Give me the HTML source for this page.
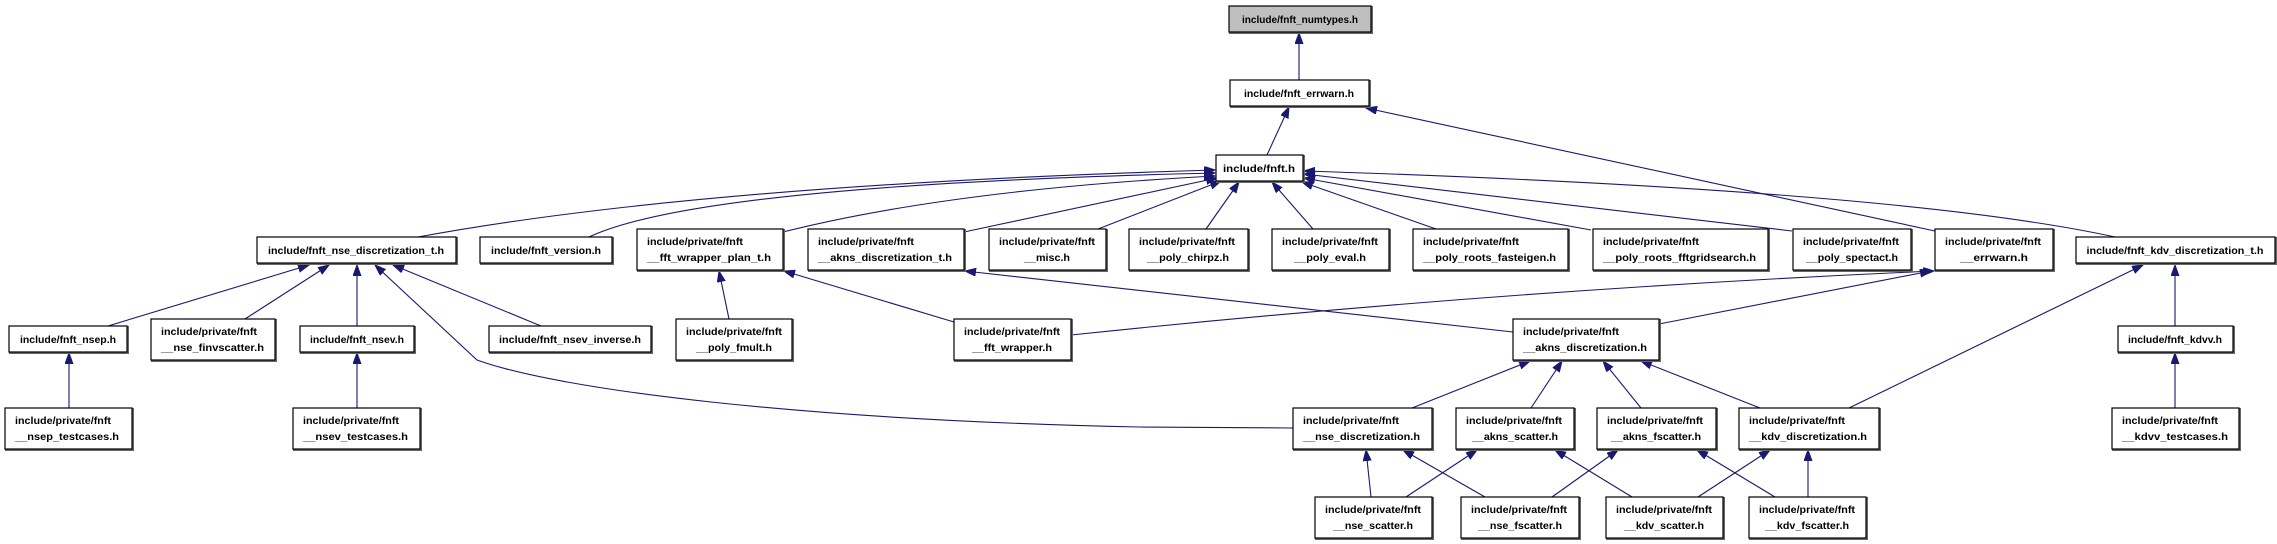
<!DOCTYPE html>
<html><head><meta charset="utf-8"><style>
html,body{margin:0;padding:0;background:#fff;}
svg{display:block}
text{font-family:"Liberation Sans",sans-serif;font-weight:bold;font-size:10px;fill:#000}
.b{fill:#fff;stroke:#000;stroke-width:1.2}
.s{fill:none;stroke:#666;stroke-width:2}
.e{fill:none;stroke:#191970;stroke-width:1.1;marker-end:url(#a)}
</style></head><body>
<svg width="2277" height="544" viewBox="0 0 2277 544" xmlns="http://www.w3.org/2000/svg">
<defs><marker id="a" markerWidth="12" markerHeight="10" refX="11" refY="4" orient="auto" markerUnits="userSpaceOnUse"><path d="M0,0 L11,4 L0,8 z" fill="#191970" stroke="#191970"/></marker></defs>

<!-- edges -->
<path class="e" d="M1299,80 L1299,33"/>
<path class="e" d="M1267,155 L1289,107"/>
<path class="e" d="M1935,231 L1366,108"/>
<path class="e" d="M418,237 Q700,185 1215,170"/>
<path class="e" d="M589,237 Q700,185 1215,173"/>
<path class="e" d="M783,232 Q950,190 1215,176"/>
<path class="e" d="M964,232 L1217,178"/>
<path class="e" d="M1098,229 L1221,181"/>
<path class="e" d="M1206,229 L1239,182"/>
<path class="e" d="M1313,229 L1272,182"/>
<path class="e" d="M1436,229 L1302,182"/>
<path class="e" d="M1591,230 L1304,178"/>
<path class="e" d="M1792,231 L1304,174"/>
<path class="e" d="M2115,237 Q1900,190 1304,171"/>
<path class="e" d="M108,326 L309,265"/>
<path class="e" d="M245,319 L329,265"/>
<path class="e" d="M357,326 L357,265"/>
<path class="e" d="M541,326 L393,265"/>
<path class="e" d="M69,408 L69,353"/>
<path class="e" d="M357,408 L357,353"/>
<path class="e" d="M1293,428 L1140,427 C800,420 560,390 477,360 L375,265"/>
<path class="e" d="M729,319 L719,271"/>
<path class="e" d="M954,322 L784,271"/>
<path class="e" d="M1513,332 L965,271"/>
<path class="e" d="M1071,335 Q1500,290 1934,271"/>
<path class="e" d="M1659,324 L1931,271"/>
<path class="e" d="M1849,408 L2143,265"/>
<path class="e" d="M2175,326 L2175,265"/>
<path class="e" d="M2175,408 L2175,353"/>
<path class="e" d="M1412,408 L1530,361"/>
<path class="e" d="M1531,408 L1562,361"/>
<path class="e" d="M1641,408 L1603,361"/>
<path class="e" d="M1760,408 L1641,361"/>
<path class="e" d="M1371,497 L1366,450"/>
<path class="e" d="M1406,497 L1477,450"/>
<path class="e" d="M1485,497 L1403,450"/>
<path class="e" d="M1552,497 L1618,450"/>
<path class="e" d="M1632,497 L1555,450"/>
<path class="e" d="M1698,497 L1770,450"/>
<path class="e" d="M1775,497 L1697,450"/>
<path class="e" d="M1808,497 L1808,450"/>

<!-- nodes -->
<g>
<rect class="s" x="1230" y="7" width="142" height="26"/><rect x="1229" y="6" width="142" height="26" fill="#bfbfbf" stroke="#000" stroke-width="1.2"/>
<text x="1300" y="23" text-anchor="middle" textLength="116" lengthAdjust="spacingAndGlyphs">include/fnft_numtypes.h</text>

<rect class="s" x="1231" y="81" width="139" height="26"/><rect class="b" x="1230" y="80" width="139" height="26"/>
<text x="1299" y="97" text-anchor="middle" textLength="110" lengthAdjust="spacingAndGlyphs">include/fnft_errwarn.h</text>

<rect class="s" x="1217" y="156" width="87" height="26"/><rect class="b" x="1216" y="155" width="87" height="26"/>
<text x="1259" y="172" text-anchor="middle" textLength="72" lengthAdjust="spacingAndGlyphs">include/fnft.h</text>

<!-- row 2 -->
<rect class="s" x="258" y="238" width="199" height="26"/><rect class="b" x="257" y="237" width="199" height="26"/>
<text x="356" y="254" text-anchor="middle" textLength="176" lengthAdjust="spacingAndGlyphs">include/fnft_nse_discretization_t.h</text>

<rect class="s" x="481" y="238" width="132" height="26"/><rect class="b" x="480" y="237" width="132" height="26"/>
<text x="546" y="254" text-anchor="middle" textLength="110" lengthAdjust="spacingAndGlyphs">include/fnft_version.h</text>

<rect class="s" x="638" y="230" width="146" height="41"/><rect class="b" x="637" y="229" width="146" height="41"/>
<text x="647" y="245" textLength="96" lengthAdjust="spacingAndGlyphs">include/private/fnft</text>
<text x="647" y="261" textLength="124" lengthAdjust="spacingAndGlyphs">__fft_wrapper_plan_t.h</text>

<rect class="s" x="809" y="230" width="156" height="41"/><rect class="b" x="808" y="229" width="156" height="41"/>
<text x="818" y="245" textLength="96" lengthAdjust="spacingAndGlyphs">include/private/fnft</text>
<text x="818" y="261" textLength="134" lengthAdjust="spacingAndGlyphs">__akns_discretization_t.h</text>

<rect class="s" x="990" y="230" width="117" height="41"/><rect class="b" x="989" y="229" width="117" height="41"/>
<text x="999" y="245" textLength="96" lengthAdjust="spacingAndGlyphs">include/private/fnft</text>
<text x="1047" y="261" text-anchor="middle" textLength="46" lengthAdjust="spacingAndGlyphs">__misc.h</text>

<rect class="s" x="1130" y="230" width="119" height="41"/><rect class="b" x="1129" y="229" width="119" height="41"/>
<text x="1139" y="245" textLength="96" lengthAdjust="spacingAndGlyphs">include/private/fnft</text>
<text x="1188" y="261" text-anchor="middle" textLength="82" lengthAdjust="spacingAndGlyphs">__poly_chirpz.h</text>

<rect class="s" x="1273" y="230" width="117" height="41"/><rect class="b" x="1272" y="229" width="117" height="41"/>
<text x="1282" y="245" textLength="96" lengthAdjust="spacingAndGlyphs">include/private/fnft</text>
<text x="1330" y="261" text-anchor="middle" textLength="72" lengthAdjust="spacingAndGlyphs">__poly_eval.h</text>

<rect class="s" x="1414" y="230" width="155" height="41"/><rect class="b" x="1413" y="229" width="155" height="41"/>
<text x="1423" y="245" textLength="96" lengthAdjust="spacingAndGlyphs">include/private/fnft</text>
<text x="1423" y="261" textLength="133" lengthAdjust="spacingAndGlyphs">__poly_roots_fasteigen.h</text>

<rect class="s" x="1594" y="230" width="175" height="41"/><rect class="b" x="1593" y="229" width="175" height="41"/>
<text x="1603" y="245" textLength="96" lengthAdjust="spacingAndGlyphs">include/private/fnft</text>
<text x="1603" y="261" textLength="153" lengthAdjust="spacingAndGlyphs">__poly_roots_fftgridsearch.h</text>

<rect class="s" x="1794" y="230" width="118" height="41"/><rect class="b" x="1793" y="229" width="118" height="41"/>
<text x="1803" y="245" textLength="96" lengthAdjust="spacingAndGlyphs">include/private/fnft</text>
<text x="1852" y="261" text-anchor="middle" textLength="92" lengthAdjust="spacingAndGlyphs">__poly_spectact.h</text>

<rect class="s" x="1936" y="230" width="118" height="41"/><rect class="b" x="1935" y="229" width="118" height="41"/>
<text x="1945" y="245" textLength="96" lengthAdjust="spacingAndGlyphs">include/private/fnft</text>
<text x="1994" y="261" text-anchor="middle" textLength="68" lengthAdjust="spacingAndGlyphs">__errwarn.h</text>

<rect class="s" x="2077" y="238" width="199" height="26"/><rect class="b" x="2076" y="237" width="199" height="26"/>
<text x="2175" y="254" text-anchor="middle" textLength="177" lengthAdjust="spacingAndGlyphs">include/fnft_kdv_discretization_t.h</text>

<!-- row 3 -->
<rect class="s" x="10" y="327" width="118" height="26"/><rect class="b" x="9" y="326" width="118" height="26"/>
<text x="68" y="343" text-anchor="middle" textLength="96" lengthAdjust="spacingAndGlyphs">include/fnft_nsep.h</text>

<rect class="s" x="152" y="320" width="124" height="41"/><rect class="b" x="151" y="319" width="124" height="41"/>
<text x="161" y="335" textLength="96" lengthAdjust="spacingAndGlyphs">include/private/fnft</text>
<text x="161" y="351" textLength="103" lengthAdjust="spacingAndGlyphs">__nse_finvscatter.h</text>

<rect class="s" x="301" y="327" width="114" height="26"/><rect class="b" x="300" y="326" width="114" height="26"/>
<text x="357" y="343" text-anchor="middle" textLength="94" lengthAdjust="spacingAndGlyphs">include/fnft_nsev.h</text>

<rect class="s" x="490" y="327" width="162" height="26"/><rect class="b" x="489" y="326" width="162" height="26"/>
<text x="570" y="343" text-anchor="middle" textLength="142" lengthAdjust="spacingAndGlyphs">include/fnft_nsev_inverse.h</text>

<rect class="s" x="677" y="320" width="116" height="41"/><rect class="b" x="676" y="319" width="116" height="41"/>
<text x="686" y="335" textLength="96" lengthAdjust="spacingAndGlyphs">include/private/fnft</text>
<text x="734" y="351" text-anchor="middle" textLength="76" lengthAdjust="spacingAndGlyphs">__poly_fmult.h</text>

<rect class="s" x="955" y="320" width="117" height="41"/><rect class="b" x="954" y="319" width="117" height="41"/>
<text x="964" y="335" textLength="96" lengthAdjust="spacingAndGlyphs">include/private/fnft</text>
<text x="1012" y="351" text-anchor="middle" textLength="80" lengthAdjust="spacingAndGlyphs">__fft_wrapper.h</text>

<rect class="s" x="1514" y="320" width="146" height="41"/><rect class="b" x="1513" y="319" width="146" height="41"/>
<text x="1523" y="335" textLength="96" lengthAdjust="spacingAndGlyphs">include/private/fnft</text>
<text x="1523" y="351" textLength="124" lengthAdjust="spacingAndGlyphs">__akns_discretization.h</text>

<rect class="s" x="2119" y="327" width="115" height="26"/><rect class="b" x="2118" y="326" width="115" height="26"/>
<text x="2175" y="343" text-anchor="middle" textLength="94" lengthAdjust="spacingAndGlyphs">include/fnft_kdvv.h</text>

<!-- row 4 -->
<rect class="s" x="6" y="409" width="127" height="41"/><rect class="b" x="5" y="408" width="127" height="41"/>
<text x="15" y="424" textLength="96" lengthAdjust="spacingAndGlyphs">include/private/fnft</text>
<text x="15" y="440" textLength="104" lengthAdjust="spacingAndGlyphs">__nsep_testcases.h</text>

<rect class="s" x="294" y="409" width="127" height="41"/><rect class="b" x="293" y="408" width="127" height="41"/>
<text x="303" y="424" textLength="96" lengthAdjust="spacingAndGlyphs">include/private/fnft</text>
<text x="303" y="440" textLength="105" lengthAdjust="spacingAndGlyphs">__nsev_testcases.h</text>

<rect class="s" x="1294" y="409" width="139" height="41"/><rect class="b" x="1293" y="408" width="139" height="41"/>
<text x="1303" y="424" textLength="96" lengthAdjust="spacingAndGlyphs">include/private/fnft</text>
<text x="1303" y="440" textLength="117" lengthAdjust="spacingAndGlyphs">__nse_discretization.h</text>

<rect class="s" x="1457" y="409" width="118" height="41"/><rect class="b" x="1456" y="408" width="118" height="41"/>
<text x="1466" y="424" textLength="96" lengthAdjust="spacingAndGlyphs">include/private/fnft</text>
<text x="1515" y="440" text-anchor="middle" textLength="86" lengthAdjust="spacingAndGlyphs">__akns_scatter.h</text>

<rect class="s" x="1598" y="409" width="119" height="41"/><rect class="b" x="1597" y="408" width="119" height="41"/>
<text x="1607" y="424" textLength="96" lengthAdjust="spacingAndGlyphs">include/private/fnft</text>
<text x="1656" y="440" text-anchor="middle" textLength="90" lengthAdjust="spacingAndGlyphs">__akns_fscatter.h</text>

<rect class="s" x="1740" y="409" width="140" height="41"/><rect class="b" x="1739" y="408" width="140" height="41"/>
<text x="1749" y="424" textLength="96" lengthAdjust="spacingAndGlyphs">include/private/fnft</text>
<text x="1749" y="440" textLength="118" lengthAdjust="spacingAndGlyphs">__kdv_discretization.h</text>

<rect class="s" x="2113" y="409" width="127" height="41"/><rect class="b" x="2112" y="408" width="127" height="41"/>
<text x="2122" y="424" textLength="96" lengthAdjust="spacingAndGlyphs">include/private/fnft</text>
<text x="2122" y="440" textLength="106" lengthAdjust="spacingAndGlyphs">__kdvv_testcases.h</text>

<!-- row 5 -->
<rect class="s" x="1316" y="498" width="117" height="41"/><rect class="b" x="1315" y="497" width="117" height="41"/>
<text x="1325" y="513" textLength="96" lengthAdjust="spacingAndGlyphs">include/private/fnft</text>
<text x="1373" y="529" text-anchor="middle" textLength="80" lengthAdjust="spacingAndGlyphs">__nse_scatter.h</text>

<rect class="s" x="1462" y="498" width="118" height="41"/><rect class="b" x="1461" y="497" width="118" height="41"/>
<text x="1471" y="513" textLength="96" lengthAdjust="spacingAndGlyphs">include/private/fnft</text>
<text x="1520" y="529" text-anchor="middle" textLength="84" lengthAdjust="spacingAndGlyphs">__nse_fscatter.h</text>

<rect class="s" x="1607" y="498" width="117" height="41"/><rect class="b" x="1606" y="497" width="117" height="41"/>
<text x="1616" y="513" textLength="96" lengthAdjust="spacingAndGlyphs">include/private/fnft</text>
<text x="1664" y="529" text-anchor="middle" textLength="80" lengthAdjust="spacingAndGlyphs">__kdv_scatter.h</text>

<rect class="s" x="1750" y="498" width="117" height="41"/><rect class="b" x="1749" y="497" width="117" height="41"/>
<text x="1759" y="513" textLength="96" lengthAdjust="spacingAndGlyphs">include/private/fnft</text>
<text x="1807" y="529" text-anchor="middle" textLength="84" lengthAdjust="spacingAndGlyphs">__kdv_fscatter.h</text>
</g>
</svg>
</body></html>
